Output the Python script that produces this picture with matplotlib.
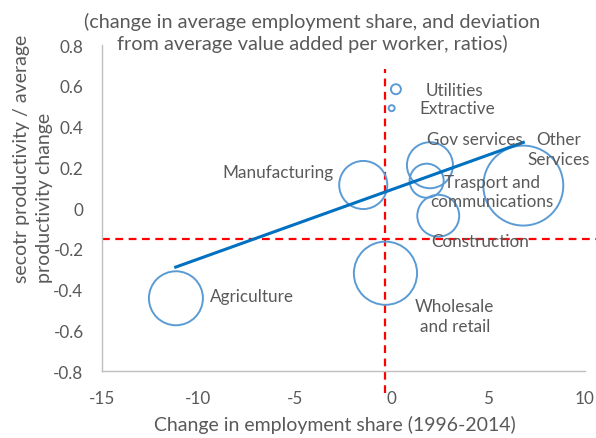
import numpy as np
import matplotlib
matplotlib.use("Agg")
import matplotlib.pyplot as plt

plt.rcParams['font.family'] = ['Lato', 'DejaVu Sans']
plt.rcParams['axes.unicode_minus'] = False

sectors = ["Utilities", "Extractive", "Gov services", "Trasport and\ncommunications",
           "Manufacturing", "Construction", "Other\nServices", "Wholesale\nand retail",
           "Agriculture"]
emp_change = [0.22, 0.0, 1.98, 1.81, -1.47, 2.41, 6.81, -0.32, -11.16]
prod_ratio = [0.583, 0.49, 0.21, 0.134, 0.113, -0.038, 0.11, -0.32, -0.443]
bubble_val = [0.25, 0.09, 5.3, 2.9, 5.8, 4.4, 16.0, 10.0, 7.3]

trend_x = [-11.17, 6.81]
trend_y = [-0.29, 0.322]

avg_x = -0.32
avg_y = -0.152

label_x = [1.77, 1.43, 1.81, 5.21, -5.9, 4.59, 8.66, 3.27, -7.23]
label_y = [0.58, 0.49, 0.34, 0.082, 0.175, -0.16, 0.29, -0.53, -0.43]
label_ha = ["left", "left", "left", "center", "center", "center", "center", "center", "center"]

grey = "#595959"

fig = plt.figure(figsize=(5.96, 4.39), dpi=100)
ax = fig.add_axes([0.1706, 0.1526, 0.8109, 0.7426])

ax.scatter(emp_change, prod_ratio, s=np.array(bubble_val) * 207,
           facecolors="none", edgecolors="#5B9BD5", linewidths=1.4, zorder=3)
ax.plot(trend_x, trend_y, color="#0070C0", linewidth=2.2, zorder=4)

ax.plot([avg_x, avg_x], [-0.91, 0.68], color="red", linestyle=(0, (3.5, 2.5)),
        linewidth=1.6, clip_on=False, zorder=2)
ax.plot([-15, 10.6], [avg_y, avg_y], color="red", linestyle=(0, (3.5, 2.5)),
        linewidth=1.6, clip_on=False, zorder=2)

for name, lx, ly, ha in zip(sectors, label_x, label_y, label_ha):
    ax.text(lx, ly, name, ha=ha, va="center", fontsize=12.3, color=grey,
            linespacing=1.25, zorder=5)

ax.set_xlim(-15, 10)
ax.set_ylim(-0.8, 0.8)
ax.set_xticks([-15, -10, -5, 0, 5, 10])
ax.set_yticks(np.arange(-0.8, 0.81, 0.2))
ax.set_yticklabels(["-0.8", "-0.6", "-0.4", "-0.2", "0", "0.2", "0.4", "0.6", "0.8"])
ax.tick_params(length=0, labelsize=12.3, colors=grey)
ax.tick_params(axis="y", pad=13)
ax.tick_params(axis="x", pad=14)
for side in ["top", "right"]:
    ax.spines[side].set_visible(False)
for side in ["left", "bottom"]:
    ax.spines[side].set_color("#BFBFBF")
    ax.spines[side].set_linewidth(1.0)

ax.set_xlabel("Change in employment share (1996-2014)", fontsize=14, color=grey)
ax.xaxis.set_label_coords(0.4826, -0.135)

fig.text(0.055, 0.355, "secotr productivity / average\nproductivity change", rotation=90,
         ha="center", va="bottom", multialignment="left", fontsize=14, color=grey,
         linespacing=1.4)

fig.text(0.5235, 0.925, "(change in average employment share, and deviation\n"
         "from average value added per worker, ratios)", ha="center", va="center",
         fontsize=14.3, color=grey, linespacing=1.25)

fig.savefig("out.png", dpi=100)
